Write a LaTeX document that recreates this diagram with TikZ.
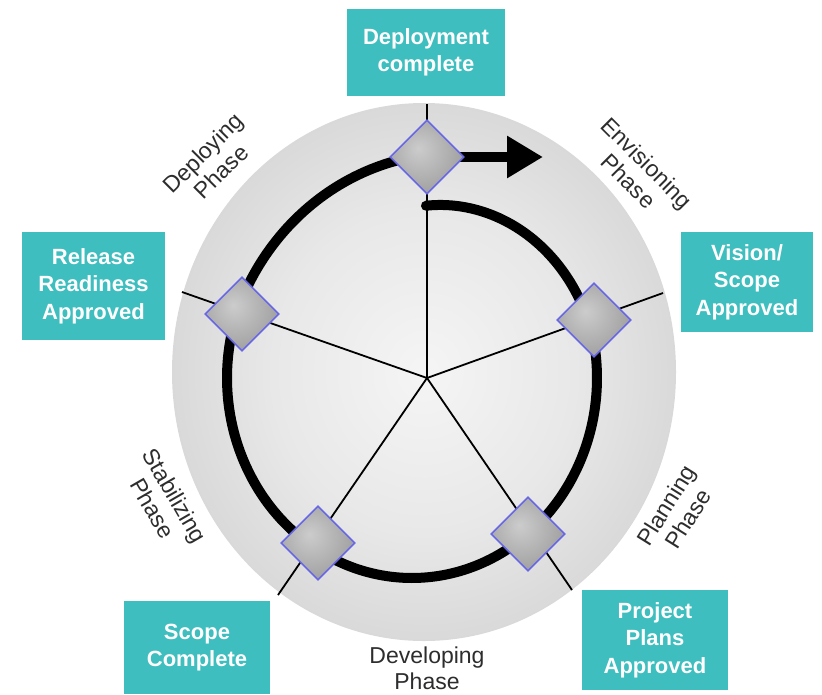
\documentclass[tikz,border=0pt]{standalone}
\usepackage{fontspec}
\setmainfont{Liberation Sans}
\usetikzlibrary{shapes.geometric,arrows.meta}
\definecolor{tealbox}{RGB}{62,190,190}
\definecolor{gemedge}{RGB}{104,104,230}
\definecolor{phasetext}{RGB}{45,45,45}
\pgfdeclareradialshading{disc}{\pgfpoint{0bp}{0bp}}{color(0bp)=(white!96!black); color(15bp)=(white!91!black); color(27bp)=(white!84!black); color(35bp)=(white!77!black); color(42bp)=(white!72!black); color(48bp)=(white!68!black); color(50bp)=(white!62!black)}
\pgfdeclareradialshading{gem}{\pgfpoint{-6bp}{6bp}}{color(0bp)=(white!80!black); color(30bp)=(white!62!black); color(60bp)=(white!40!black)}
\tikzset{
  gemnode/.style={diamond, aspect=1, minimum width=74pt, minimum height=74pt, inner sep=0pt,
    draw=gemedge, line width=1.6pt, shade, shading=gem},
  boxnode/.style={fill=tealbox, text=white, font=\bfseries\fontsize{22}{27.5}\selectfont,
    align=center, inner sep=0pt},
  phasenode/.style={text=phasetext, font=\fontsize{23}{26}\selectfont, align=center, inner sep=0pt},
  spoke/.style={line width=1.8pt, black},
  ringline/.style={line width=10pt, black, line cap=round},
  declare function={ua(\t)=max(0,(\t-10)/80); ub(\t)=max(0,(-210-\t)/60);
    sf(\t)=1-0.15*ua(\t)*(0.4+0.6*ua(\t))+0.105*ub(\t)*ub(\t);},
}
\begin{document}
\begin{tikzpicture}[x=1pt,y=-1pt]
\useasboundingbox (0,0) rectangle (822,694);
% disc
\node[ellipse, minimum width=504pt, minimum height=538pt, inner sep=0pt, shade, shading=disc] (disc) at (424,372) {};
% spokes
\coordinate (hub) at (427,378);
\coordinate (s1) at (427,104);
\coordinate (s2) at (663,293);
\coordinate (s3) at (572,590);
\coordinate (s4) at (278,595);
\coordinate (s5) at (182,292);
\foreach \s in {s1,s2,s3,s4,s5} \draw[spoke] (hub) -- (\s);
% diamond positions
\coordinate (p1) at (427,157);
\coordinate (p2) at (594,320);
\coordinate (p3) at (528,534);
\coordinate (p4) at (318,543);
\coordinate (p5) at (242,314);
\coordinate (tip) at (543,157);
% spiral ring
\draw[ringline, shift={(412,378)}] plot[domain=85:-268, samples=140, smooth, variable=\t]
  ({185*sf(\t)*cos(\t)},{-200*sf(\t)*sin(\t)});
\draw[line width=10pt, -{Triangle[length=36pt,width=40pt]}] (p1) -- (tip);
% diamonds
\node[gemnode] (d1) at (p1) {};
\node[gemnode] (d2) at (p2) {};
\node[gemnode] (d3) at (p3) {};
\node[gemnode] (d4) at (p4) {};
\node[gemnode] (d5) at (p5) {};
% phase labels
\node[phasenode, rotate=45] (ph1) at (212,162) {Deploying\\Phase};
\node[phasenode, rotate=-45] (ph2) at (638,172) {Envisioning\\Phase};
\node[phasenode, rotate=58] (ph3) at (677,512) {Planning\\Phase};
\node[phasenode] (ph4) at (427,668) {Developing\\Phase};
\node[phasenode, rotate=-60] (ph5) at (164,502) {Stabilizing\\Phase};
% milestone boxes
\node[boxnode, minimum width=158pt, minimum height=87pt] (b1) at (426,52.5) {Deployment\\complete};
\node[boxnode, minimum width=132pt, minimum height=100pt] (b2) at (747,282) {Vision/\\Scope\\Approved};
\node[boxnode, minimum width=146pt, minimum height=100pt] (b3) at (655,640) {Project\\Plans\\Approved};
\node[boxnode, minimum width=146pt, minimum height=93pt] (b4) at (197,647.5) {Scope\\Complete};
\node[boxnode, minimum width=143pt, minimum height=108pt] (b5) at (93.5,286) {Release\\Readiness\\Approved};
\end{tikzpicture}
\end{document}
